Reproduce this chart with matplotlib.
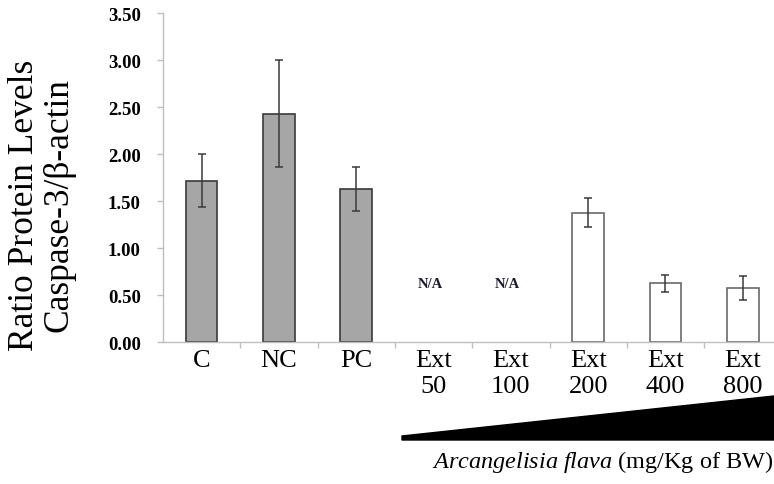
import numpy as np
import matplotlib
matplotlib.use("Agg")
import matplotlib.pyplot as plt
from matplotlib.patches import Polygon

plt.rcParams['font.family'] = ['Liberation Serif', 'DejaVu Serif']
plt.rcParams['mathtext.fontset'] = 'custom'
plt.rcParams['mathtext.it'] = 'Liberation Serif:italic'
plt.rcParams['mathtext.rm'] = 'Liberation Serif'

# data
groups = ['C', 'NC', 'PC', 'Ext\n50', 'Ext\n100', 'Ext\n200', 'Ext\n400', 'Ext\n800']
ratio = [1.72, 2.43, 1.63, np.nan, np.nan, 1.38, 0.63, 0.58]
err = [0.28, 0.57, 0.23, np.nan, np.nan, 0.15, 0.09, 0.13]
is_control = [True, True, True, False, False, False, False, False]
y_ticks = [0.0, 0.5, 1.0, 1.5, 2.0, 2.5, 3.0, 3.5]

W, H = 774, 485
fig = plt.figure(figsize=(W / 100, H / 100), dpi=100)
ax = fig.add_axes([163 / W, 141.7 / H, 618.4 / W, 329 / H])

x = np.arange(len(groups))
ratio = np.array(ratio)
err = np.array(err)
ok = ~np.isnan(ratio)
ctrl = np.array(is_control)

for mask, face, edge in [(ok & ctrl, '#a6a6a6', '#3a3a3a'),
                         (ok & ~ctrl, 'white', '#6a6a6a')]:
    ax.bar(x[mask], ratio[mask], width=0.41, color=face, edgecolor=edge,
           linewidth=1.2, zorder=2)
    ax.errorbar(x[mask], ratio[mask], yerr=err[mask], fmt='none',
                ecolor='#3a3a3a', elinewidth=1.1, capsize=3, capthick=1.1,
                zorder=3)

# missing groups
for i in x[~ok]:
    ax.text(i - 0.04, 0.63, 'N/A', ha='center', va='center', fontsize=10.5,
            fontweight='bold', color='#1a1a2a')

ax.set_xlim(-0.5, len(groups) - 0.5)
ax.set_ylim(0, 3.5)
ax.set_yticks(y_ticks)
ax.set_yticklabels([f'{v:.2f}' for v in y_ticks], fontsize=13.5,
                   fontweight='bold')

# ticks at boundaries, labels centered
ax.set_xticks(np.arange(0.5, len(groups) - 0.5, 1))
ax.set_xticklabels([])
ax.set_xticks(x, minor=True)
ax.set_xticklabels(groups, minor=True, fontsize=19, va='top',
                   linespacing=1.2)
ax.tick_params(axis='x', which='minor', length=0, pad=5)
ax.tick_params(axis='x', which='major', length=4, color='#bfbfbf', width=1)
ax.tick_params(axis='y', length=4, color='#bfbfbf', width=1, pad=12)

for s in ['top', 'right']:
    ax.spines[s].set_visible(False)
for s in ['left', 'bottom']:
    ax.spines[s].set_color('#bfbfbf')
    ax.spines[s].set_linewidth(1)

# y axis label, two lines
fig.text(25 / W, 1 - 205 / H, 'Ratio Protein Levels', rotation=90,
         ha='center', va='center', fontsize=25.5)
fig.text(59 / W, 1 - 205 / H, 'Caspase-3/β-actin', rotation=90,
         ha='center', va='center', fontsize=25.5)

# dose wedge
wedge = Polygon([(402 / W, 1 - 437 / H), (1.0, 1 - 397 / H),
                 (1.0, 1 - 441 / H), (402 / W, 1 - 441 / H)],
                closed=True, transform=fig.transFigure, color='black')
fig.patches.append(wedge)

fig.text(773 / W, 1 - 468 / H,
         r'$\mathit{Arcangelisia\ flava}$ (mg/Kg of BW)',
         ha='right', va='baseline', fontsize=17.5)

fig.savefig('out.png', dpi=100)
